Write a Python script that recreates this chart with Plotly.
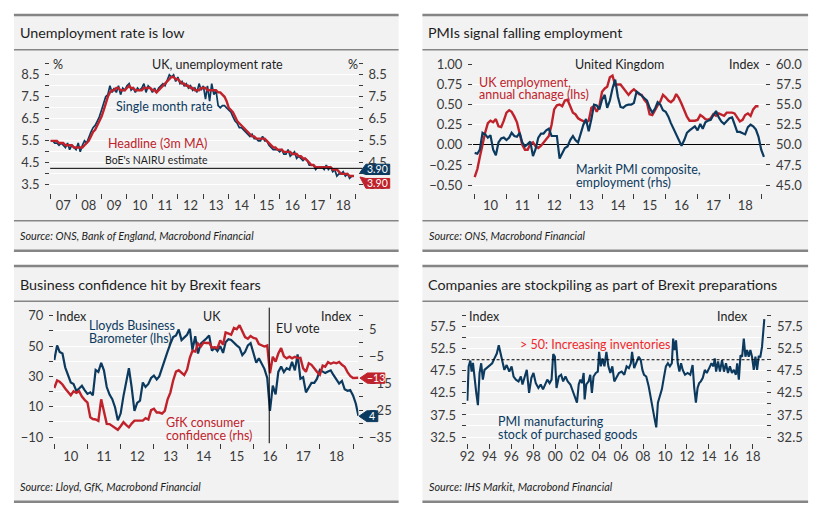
import numpy as np
import pandas as pd
import plotly.graph_objects as go

W, H = 821, 513
FONT = "Lato"
BLUE = "#0c3a5f"
RED = "#c0222b"
BRIGHT_RED = "#f0282d"
INK = "#1e1e1e"
TICKC = "#3a3a3a"
PANEL = "#f2f2f2"
RULE = "#858585"

# ------------------------------------------------------------------ data
# Panel 1: UK unemployment rate, monthly from Jan 2007
unemp_start = "2007-01-01"
unemp_headline = [
    5.5, 5.5, 5.5, 5.5, 5.4, 5.4, 5.4, 5.3, 5.3, 5.3, 5.3, 5.2,
    5.2, 5.2, 5.2, 5.2, 5.3, 5.4, 5.5, 5.7, 5.9, 6.0, 6.2, 6.4,
    6.6, 6.9, 7.2, 7.5, 7.7, 7.8, 7.8, 7.9, 7.9, 7.8, 7.8, 7.8,
    7.9, 8.0, 7.9, 7.9, 7.8, 7.8, 7.8, 7.8, 7.9, 7.9, 7.9, 7.9,
    7.8, 7.8, 7.7, 7.8, 7.9, 8.0, 8.1, 8.2, 8.3, 8.4, 8.4, 8.3,
    8.3, 8.2, 8.1, 8.1, 8.0, 8.0, 7.9, 7.9, 7.8, 7.8, 7.8, 7.9,
    7.9, 7.9, 7.8, 7.8, 7.8, 7.8, 7.8, 7.7, 7.7, 7.6, 7.5, 7.3,
    7.0, 6.9, 6.8, 6.6, 6.4, 6.3, 6.2, 6.1, 6.0, 5.9, 5.8, 5.7,
    5.7, 5.6, 5.6, 5.6, 5.6, 5.6, 5.5, 5.4, 5.3, 5.2, 5.2, 5.1,
    5.1, 5.1, 5.0, 5.0, 5.0, 5.0, 4.9, 4.9, 4.9, 4.8, 4.8, 4.7,
    4.7, 4.6, 4.5, 4.4, 4.4, 4.3, 4.3, 4.3, 4.3, 4.3, 4.3, 4.3,
    4.3, 4.2, 4.2, 4.2, 4.1, 4.0, 4.0, 4.0, 4.0, 3.9, 3.9, 3.9,
]
unemp_single = [
    5.5, 5.5, 5.4, 5.4, 5.3, 5.4, 5.3, 5.2, 5.4, 5.1, 5.3, 5.2,
    5.1, 5.4, 5.0, 5.3, 5.5, 5.4, 5.7, 5.9, 6.1, 6.2, 6.4, 6.6,
    6.9, 7.2, 7.5, 7.6, 8.0, 7.7, 7.9, 7.7, 8.0, 7.6, 7.9, 7.8,
    8.0, 8.1, 7.8, 7.9, 7.7, 7.9, 7.8, 7.9, 8.1, 7.7, 8.0, 7.9,
    7.7, 7.9, 7.7, 7.9, 8.0, 8.1, 8.0, 8.3, 8.5, 8.4, 8.5, 8.2,
    8.4, 8.1, 8.2, 8.0, 8.1, 7.9, 8.0, 7.8, 7.9, 7.7, 8.1, 7.8,
    8.0, 7.4, 8.0, 7.3, 8.1, 7.6, 7.8, 7.1, 7.0, 7.1, 7.1, 7.0,
    6.9, 6.8, 6.6, 6.4, 6.3, 6.1, 6.1, 6.0, 5.9, 5.8, 5.7, 5.8,
    5.6, 5.6, 5.5, 5.5, 5.7, 5.5, 5.5, 5.3, 5.2, 5.1, 5.1, 5.1,
    5.0, 5.1, 4.9, 4.9, 5.1, 4.8, 4.9, 5.0, 4.7, 4.8, 4.7, 4.6,
    4.7, 4.6, 4.4, 4.4, 4.4, 4.2, 4.3, 4.3, 4.3, 4.2, 4.4, 4.2,
    4.3, 4.1, 4.2, 3.9, 4.0, 4.0, 4.1, 3.9, 4.0, 3.8, 3.9, 3.9,
]
nairu = 4.25

# Panel 2: UK employment annual change (lhs) and PMI employment (rhs), monthly from Jan 2010
emp_start = "2010-01-01"
emp_change = [
    -0.40, -0.30, -0.15, 0.02, 0.15, 0.27, 0.30, 0.28, 0.32, 0.23, 0.22, 0.30,
    0.40, 0.43, 0.41, 0.35, 0.28, 0.14, 0.00, -0.06, -0.06, 0.01, 0.03, -0.02,
    -0.04, -0.01, 0.03, 0.07, 0.11, 0.25, 0.44, 0.49, 0.50, 0.48, 0.55, 0.56,
    0.48, 0.40, 0.38, 0.33, 0.31, 0.29, 0.28, 0.30, 0.46, 0.48, 0.41, 0.48,
    0.66, 0.70, 0.72, 0.84, 0.86, 0.74, 0.75, 0.75, 0.71, 0.67, 0.62, 0.66,
    0.69, 0.66, 0.63, 0.62, 0.56, 0.52, 0.38, 0.37, 0.44, 0.49, 0.54, 0.62,
    0.59, 0.55, 0.53, 0.56, 0.63, 0.58, 0.51, 0.43, 0.35, 0.30, 0.30, 0.30,
    0.31, 0.37, 0.35, 0.32, 0.31, 0.33, 0.38, 0.36, 0.39, 0.37, 0.36, 0.40,
    0.40, 0.40, 0.39, 0.33, 0.29, 0.31, 0.37, 0.39, 0.36, 0.44, 0.48, 0.48,
]
pmi_emp = [
    49.0, 48.9, 49.4, 51.5, 51.3, 50.9, 51.2, 49.4, 48.7, 50.3, 50.8, 50.9,
    50.6, 50.9, 51.5, 51.1, 51.0, 51.5, 50.3, 49.8, 50.1, 50.4, 48.6, 49.5,
    50.9, 51.4, 51.4, 51.8, 52.0, 51.1, 51.1, 51.1, 48.3, 48.9, 49.6, 49.8,
    50.6, 51.1, 50.6, 50.3, 51.5, 52.5, 53.2, 51.7, 53.2, 55.0, 54.9, 54.4,
    55.6, 56.2, 54.6, 55.5, 57.0, 58.1, 56.0, 54.7, 54.6, 54.9, 55.0, 55.0,
    55.2, 56.6, 56.4, 56.1, 55.9, 55.5, 54.6, 54.0, 54.5, 55.3, 55.0, 54.3,
    54.1, 53.5, 52.7, 52.0, 51.4, 50.6, 49.9, 50.6, 51.5, 51.8, 52.1, 52.3,
    51.8, 52.6, 52.0, 52.8, 53.0, 53.1, 53.7, 54.2, 53.4, 52.9, 52.6, 52.9,
    53.3, 53.4, 52.5, 51.6, 51.6, 51.4, 51.3, 52.2, 52.5, 52.3, 51.9, 51.0,
    49.4, 48.5,
]

# Panel 3: Lloyds Business Barometer (lhs) and GfK consumer confidence (rhs), monthly from Jan 2010
conf_start = "2010-01-01"
lloyds = [
    40.8, 50.5, 46.2, 45.1, 36.0, 30.5, 26.0, 25.0, 20.5, 22.0, 23.8, 21.0,
    18.5, 19.5, 17.5, 34.3, 33.0, 39.0, 34.0, 23.0, 18.0, 15.0, 9.5, 1.0,
    5.5, 17.0, 25.0, 35.4, 23.0, 7.3, 12.5, 14.0, 26.0, 23.0, 25.0, 29.0,
    30.5, 28.0, 30.0, 36.0, 40.8, 46.5, 51.5, 56.0, 57.0, 61.0, 54.0, 56.0,
    57.5, 61.4, 47.5, 56.5, 45.1, 51.6, 53.0, 55.0, 57.0, 47.0, 49.0, 46.8,
    50.0, 45.5, 52.5, 54.5, 54.0, 52.0, 50.5, 49.0, 44.1, 46.2, 50.5, 52.0,
    45.5, 39.0, 42.0, 38.5, 35.0, 29.0, 7.3, 24.0, 18.1, 33.0, 36.5, 32.8,
    35.5, 34.5, 39.7, 34.0, 44.5, 28.5, 29.5, 19.5, 22.4, 25.7, 25.7, 28.5,
    34.3, 33.3, 32.2, 33.2, 34.0, 30.8, 27.8, 25.3, 27.0, 21.5, 20.5, 21.0,
    17.5, 12.0, 4.0,
]
gfk = [
    -16.8, -14.0, -14.5, -15.5, -17.0, -18.2, -19.5, -18.0, -18.6, -18.0, -20.0, -21.2,
    -22.2, -27.7, -28.3, -28.5, -29.0, -21.0, -26.0, -30.1, -30.2, -31.0, -31.5, -32.3,
    -31.0, -29.5, -30.5, -31.4, -30.0, -28.9, -28.9, -28.9, -28.9, -28.0, -28.5, -25.0,
    -24.5, -25.9, -25.9, -26.3, -25.3, -21.0, -18.5, -14.0, -10.7, -10.2, -11.0, -12.0,
    -10.0, -5.5, -3.0, -3.3, -0.3, -1.4, 0.1, -0.1, 0.0, -1.8, -1.7, -2.0,
    0.9, -0.7, 3.8, 3.5, 3.0, 5.5, 5.0, 6.5, 3.9, 2.1, 1.5, 2.5,
    1.8, 1.5, -0.5, -0.9, -1.4, -1.0, -11.3, -5.2, -7.0, -4.0, -2.0, -5.0,
    -5.8, -5.2, -5.8, -5.2, -5.7, -5.6, -9.5, -10.8, -7.6, -8.2, -9.6, -10.8,
    -11.9, -8.5, -8.9, -7.2, -7.8, -7.3, -7.6, -7.1, -8.2, -8.9, -10.9, -12.3,
    -13.1, -13.1, -13.0,
]
eu_vote = "2016-06-23"

# Panel 4: PMI manufacturing stock of purchased goods (decimal years)
stock_years = [
    1992.0, 1992.12, 1992.27, 1992.39, 1992.51, 1992.66, 1992.81, 1992.96, 1993.11, 1993.26,
    1993.41, 1993.56, 1993.77, 1994.0, 1994.26, 1994.47, 1994.68, 1994.86, 1995.0, 1995.22,
    1995.37, 1995.58, 1995.82, 1996.03, 1996.21, 1996.42, 1996.66, 1996.87, 1997.02, 1997.23,
    1997.41, 1997.62, 1997.83, 1998.02, 1998.23, 1998.47, 1998.68, 1998.89, 1999.07, 1999.28,
    1999.49, 1999.67, 1999.82, 1999.97, 2000.12, 2000.33, 2000.54, 2000.72, 2000.93, 2001.14,
    2001.38, 2001.59, 2001.77, 2001.98, 2002.14, 2002.29, 2002.44, 2002.59, 2002.68, 2002.83,
    2003.04, 2003.19, 2003.34, 2003.49, 2003.7, 2003.88, 2004.0, 2004.15, 2004.3, 2004.48,
    2004.66, 2004.84, 2005.02, 2005.2, 2005.38, 2005.59, 2005.8, 2006.05, 2006.29, 2006.5,
    2006.71, 2006.89, 2007.0, 2007.19, 2007.4, 2007.61, 2007.79, 2007.94, 2008.09, 2008.29,
    2008.51, 2008.69, 2008.87, 2009.05, 2009.2, 2009.35, 2009.53, 2009.71, 2009.89, 2010.08,
    2010.26, 2010.44, 2010.62, 2010.74, 2010.86, 2011.0, 2011.16, 2011.31, 2011.46, 2011.61,
    2011.82, 2012.06, 2012.3, 2012.51, 2012.66, 2012.81, 2012.96, 2013.11, 2013.26, 2013.44,
    2013.62, 2013.8, 2014.02, 2014.23, 2014.41, 2014.53, 2014.65, 2014.83, 2015.0, 2015.19,
    2015.37, 2015.55, 2015.73, 2015.91, 2016.09, 2016.27, 2016.45, 2016.57, 2016.72, 2016.87,
    2017.02, 2017.17, 2017.32, 2017.47, 2017.62, 2017.77, 2017.92, 2018.08, 2018.23, 2018.38,
    2018.53, 2018.68, 2018.83, 2018.92, 2019.04,
]
stock_values = [
    40.7, 48.5, 49.8, 47.3, 49.3, 45.1, 42.5, 39.7, 47.0, 49.2,
    45.5, 47.7, 48.1, 48.5, 49.2, 50.3, 51.4, 53.3, 51.8, 49.6,
    47.7, 48.8, 47.3, 48.5, 46.2, 45.5, 45.1, 46.2, 44.4, 46.2,
    47.7, 42.5, 45.9, 47.0, 44.7, 43.6, 44.4, 43.3, 44.4, 45.5,
    44.7, 45.5, 51.3, 50.7, 43.6, 46.2, 46.6, 45.1, 46.2, 45.1,
    44.4, 42.9, 41.8, 40.3, 44.4, 45.5, 44.7, 47.0, 41.0, 44.4,
    45.1, 46.6, 42.5, 46.2, 47.0, 47.3, 51.8, 48.5, 50.3, 48.5,
    51.8, 48.5, 47.0, 48.5, 45.1, 46.2, 47.0, 47.3, 46.6, 48.5,
    48.1, 49.2, 51.8, 48.1, 49.2, 50.7, 49.9, 47.7, 46.6, 46.2,
    44.0, 41.8, 38.8, 36.6, 34.7, 40.3, 41.8, 43.3, 45.9, 48.5,
    49.2, 48.5, 49.2, 54.8, 52.2, 54.4, 49.2, 47.3, 49.2, 47.7,
    46.6, 47.0, 46.6, 48.8, 43.6, 40.3, 43.6, 44.7, 45.1, 45.9,
    47.7, 47.0, 48.1, 49.2, 48.5, 50.3, 47.3, 49.6, 47.3, 49.9,
    47.3, 49.2, 47.0, 48.5, 47.0, 47.7, 46.6, 49.2, 45.5, 51.0,
    50.7, 54.8, 50.7, 52.2, 50.7, 52.2, 50.7, 47.7, 50.7, 47.7,
    50.7, 50.7, 52.9, 55.1, 59.2,
]
stock_threshold = 50

# ------------------------------------------------------------------ helpers
def fx(p):
    return p / W


def fy(p):
    return 1 - p / H


def lin(p, pa, va, pb, vb):
    return va + (p - pa) * (vb - va) / (pb - pa)


def dyear(y):
    yr = int(np.floor(y))
    a = pd.Timestamp(yr, 1, 1)
    b = pd.Timestamp(yr + 1, 1, 1)
    return (a + (b - a) * (y - yr)).strftime("%Y-%m-%d %H:%M")


def months(start, n):
    return pd.date_range(start, periods=n, freq="MS")


def minus(s):
    return s.replace("-", "\u2212")


fig = go.Figure()
annotations = []
shapes = []

LABEL = 12.5


def txt(x, y, text, size=LABEL, color=INK, xanchor="center", yanchor="middle", italic=False):
    annotations.append(dict(
        x=fx(x), y=fy(y), xref="paper", yref="paper", text=text, showarrow=False,
        xanchor=xanchor, yanchor=yanchor, align="left", borderpad=0,
        font=dict(family=FONT, size=size, color=color, style="italic" if italic else "normal"),
    ))


def hline(x0, x1, y, color=RULE, width=1.5):
    shapes.append(dict(type="line", xref="paper", yref="paper", x0=fx(x0), x1=fx(x1),
                       y0=fy(y), y1=fy(y), line=dict(color=color, width=width), layer="below"))


def flag(tip, x0, x1, y0, y1, color, label):
    path = (f"M {fx(tip[0])},{fy(tip[1])} L {fx(x0)},{fy(y0)} L {fx(x1)},{fy(y0)} "
            f"L {fx(x1)},{fy(y1)} L {fx(x0)},{fy(y1)} Z")
    shapes.append(dict(type="path", xref="paper", yref="paper", path=path,
                       fillcolor=color, line=dict(color=color, width=1), layer="above"))
    annotations.append(dict(x=fx((x0 + x1) / 2), y=fy((y0 + y1) / 2), xref="paper", yref="paper",
                            text=label, showarrow=False, xanchor="center", yanchor="middle",
                            font=dict(family=FONT, size=10.5, color="white")))


def panel(x0, x1, top, under, bottom, title, source, source_line=None, source_y=None):
    shapes.append(dict(type="rect", xref="paper", yref="paper", x0=fx(x0), x1=fx(x1),
                       y0=fy(bottom), y1=fy(top), fillcolor=PANEL, line=dict(width=0), layer="below"))
    hline(x0, x1, top, width=2.5)
    hline(x0, x1, under, width=1.5)
    if source_line:
        hline(x0, x1, source_line, width=1.5)
    hline(x0, x1, bottom, width=2.5)
    txt(x0 + 5, (top + under) / 2 + 0.5, title, size=14.3, xanchor="left")
    txt(x0 + 5.5, source_y, source, size=10.8, xanchor="left", italic=True)


tickfont = dict(family=FONT, size=13, color=TICKC)


def xaxis_cfg(px0, px1, ya, va, yb, vb, dtick, tick0, period, anchor):
    return dict(
        domain=[fx(px0), fx(px1)], anchor=anchor, type="date",
        range=[dyear(lin(px0, ya, va, yb, vb)), dyear(lin(px1, ya, va, yb, vb))],
        dtick=dtick, tick0=tick0, tickformat="%y",
        ticklabelmode="period" if period else "instant",
        ticks="outside", ticklen=5, tickwidth=1, tickcolor=TICKC, ticklabelstandoff=-4,
        showgrid=False, zeroline=False, showline=False, tickfont=tickfont,
    )


def yaxis_cfg(py0, py1, pa, va, pb, vb, vals, labels, anchor, side="left", overlaying=None, grid=True):
    d = dict(
        domain=[fy(py1), fy(py0)], anchor=anchor, side=side,
        range=[lin(py1, pa, va, pb, vb), lin(py0, pa, va, pb, vb)],
        tickmode="array", tickvals=vals, ticktext=labels,
        ticks="outside", ticklen=4, tickwidth=1, tickcolor=TICKC, ticklabelstandoff=3,
        showgrid=grid, gridcolor="white", gridwidth=1, zeroline=False, showline=False,
        tickfont=tickfont,
    )
    if overlaying:
        d["overlaying"] = overlaying
    return d


# ------------------------------------------------------------------ panel frames
panel(7, 395, 7, 42.5, 247, "Unemployment rate is low",
      "Source: ONS, Bank of England, Macrobond Financial", source_line=216.5, source_y=232)
panel(419, 808, 7, 42.5, 247, "PMIs signal falling employment",
      "Source: ONS, Macrobond Financial", source_line=216.5, source_y=232)
panel(7, 395, 262.5, 298.5, 502.5, "Business confidence hit by Brexit fears",
      "Source: Lloyd, GfK, Macrobond Financial", source_y=487.5)
panel(419, 808, 262.5, 298.5, 502.5, "Companies are stockpiling as part of Brexit preparations",
      "Source: IHS Markit, Macrobond Financial", source_y=487.5)

# ------------------------------------------------------------------ panel 1
d1 = months(unemp_start, len(unemp_single))
fig.add_trace(go.Scatter(x=d1, y=unemp_single, mode="lines", line=dict(color=BLUE, width=1.7),
                         xaxis="x", yaxis="y", showlegend=False, hoverinfo="skip"))
fig.add_trace(go.Scatter(x=d1, y=unemp_headline, mode="lines", line=dict(color=RED, width=2.4),
                         xaxis="x", yaxis="y2", showlegend=False, hoverinfo="skip"))
v1 = [3.5 + 0.5 * i for i in range(12)]
l1 = [f"{v:.1f}" if (round(v * 2) % 2 == 1) else "" for v in v1]
P1 = (56.3, 188, 68, 8.5, 180, 3.5)
fig.update_layout(
    xaxis=xaxis_cfg(43.5, 354, 44, 2007, 352, 2019, "M12", "2007-01-01", True, "y"),
    yaxis=yaxis_cfg(*P1, v1, l1, "x"),
    yaxis2=yaxis_cfg(*P1, v1, l1, "x", side="right", overlaying="y", grid=False),
)
shapes.append(dict(type="line", xref="x domain", yref="y", x0=0, x1=1.015, y0=nairu, y1=nairu,
                   line=dict(color="black", width=1), layer="above"))
txt(212, 57.5, "UK, unemployment rate")
txt(51, 57, "%")
txt(349, 57, "%")
txt(159, 100, "Single month rate", color=BLUE)
txt(152, 138, "Headline (3m MA)", color=RED)
txt(151, 155, "BoE's NAIRU estimate", size=10.5)
flag((356, 167.5), 362, 386, 159, 169.5, BLUE, f"{unemp_single[-1]:.2f}")
flag((356, 172), 362, 386, 173.5, 183.5, RED, f"{unemp_headline[-1]:.2f}")

# ------------------------------------------------------------------ panel 2
d2a = months(emp_start, len(emp_change))
d2b = months(emp_start, len(pmi_emp))
fig.add_trace(go.Scatter(x=d2a, y=emp_change, mode="lines", line=dict(color=RED, width=2.4),
                         xaxis="x2", yaxis="y3", showlegend=False, hoverinfo="skip"))
fig.add_trace(go.Scatter(x=d2b, y=pmi_emp, mode="lines", line=dict(color=BLUE, width=2.2),
                         xaxis="x2", yaxis="y4", showlegend=False, hoverinfo="skip"))
v3 = [-0.5 + 0.25 * i for i in range(7)]
l3 = [minus(f"{v:.2f}") for v in v3]
v4 = [45 + 2.5 * i for i in range(7)]
l4 = [f"{v:.1f}" for v in v4]
y3 = yaxis_cfg(56.8, 188, 57.3, 1.0, 180.3, -0.5, v3, l3, "x2")
y3.update(zeroline=True, zerolinecolor="black", zerolinewidth=1)
fig.update_layout(
    xaxis2=xaxis_cfg(470, 765, 471.7, 2010, 760.7, 2019, "M12", "2010-01-01", True, "y3"),
    yaxis3=y3,
    yaxis4=yaxis_cfg(56.8, 188, 57.3, 60, 180.3, 45, v4, l4, "x2", side="right",
                     overlaying="y3", grid=False),
)
txt(618, 57.5, "United Kingdom")
txt(743.5, 57.5, "Index")
txt(475, 76, "UK employment,", color=RED, xanchor="left")
txt(475, 88.5, "annual chanage (lhs)", color=RED, xanchor="left")
txt(573, 164, "Markit PMI composite,", color=BLUE, xanchor="left")
txt(573, 178, "employment (rhs)", color=BLUE, xanchor="left")

# ------------------------------------------------------------------ panel 3
d3 = months(conf_start, len(lloyds))
fig.add_trace(go.Scatter(x=d3, y=lloyds, mode="lines", line=dict(color=BLUE, width=2.2),
                         xaxis="x3", yaxis="y5", showlegend=False, hoverinfo="skip"))
fig.add_trace(go.Scatter(x=months(conf_start, len(gfk)), y=gfk, mode="lines",
                         line=dict(color=RED, width=2.4),
                         xaxis="x3", yaxis="y6", showlegend=False, hoverinfo="skip"))
v5 = [-10 + 10 * i for i in range(9)]
l5 = [minus(str(v)) if v % 20 == 10 else "" for v in v5]
l5[-1] = "70"
v6 = [-35 + 5 * i for i in range(10)]
l6 = [minus(str(v)) if v % 10 == 5 else "" for v in v6]
fig.update_layout(
    xaxis3=xaxis_cfg(47.3, 354.5, 47.7, 2010, 349, 2019, "M12", "2010-01-01", True, "y5"),
    yaxis5=yaxis_cfg(312.8, 443, 313.3, 70, 436.7, -10, v5, l5, "x3"),
    yaxis6=yaxis_cfg(312.8, 443, 313.3, 10, 436.7, -35, v6, l6, "x3", side="right",
                     overlaying="y5", grid=False),
)
shapes.append(dict(type="line", xref="x3", yref="paper", x0=eu_vote, x1=eu_vote,
                   y0=fy(305), y1=fy(443), line=dict(color="black", width=1), layer="above"))
txt(48.5, 313.5, "Index", xanchor="left")
txt(207, 313.5, "UK")
txt(348.5, 313.5, "Index", xanchor="right")
txt(270.5, 326, "EU vote", xanchor="left")
txt(82, 323, "Lloyds Business", color=BLUE, xanchor="left")
txt(82, 336, "Barometer (lhs)", color=BLUE, xanchor="left")
txt(159, 421.5, "GfK consumer", color=RED, xanchor="left")
txt(159, 435, "confidence (rhs)", color=RED, xanchor="left")
flag((356, 376.7), 363.5, 381, 371.5, 382, RED, minus(f"{round(gfk[-1]):d}"))
flag((355, 415.5), 363, 374, 410, 421, BLUE, f"{round(lloyds[-1]):d}")

# ------------------------------------------------------------------ panel 4
d4 = [dyear(y) for y in stock_years]
fig.add_trace(go.Scatter(x=d4, y=stock_values, mode="lines", line=dict(color=BLUE, width=2.1),
                         xaxis="x4", yaxis="y7", showlegend=False, hoverinfo="skip"))
fig.add_trace(go.Scatter(x=d4, y=stock_values, mode="lines", line=dict(color=BLUE, width=2.1),
                         opacity=0, xaxis="x4", yaxis="y8", showlegend=False, hoverinfo="skip"))
v7 = [32.5 + 2.5 * i for i in range(12)]
l7 = [f"{v:.1f}" if (round((v - 32.5) / 2.5) % 2 == 0) else "" for v in v7]
P4 = (312.8, 443, 324.3, 57.5, 436.7, 32.5)
fig.update_layout(
    xaxis4=xaxis_cfg(463.5, 766, 464.3, 1992, 752.3, 2018, "M24", "1992-01-01", False, "y7"),
    yaxis7=yaxis_cfg(*P4, v7, l7, "x4"),
    yaxis8=yaxis_cfg(*P4, v7, l7, "x4", side="right", overlaying="y7", grid=False),
)
shapes.append(dict(type="line", xref="x4 domain", yref="y7", x0=0, x1=1,
                   y0=stock_threshold, y1=stock_threshold,
                   line=dict(color="black", width=1, dash="3px,2px"), layer="above"))
txt(464.5, 313.5, "Index", xanchor="left")
txt(748.5, 314, "Index", xanchor="right")
txt(594, 343, "> 50: Increasing inventories", color=BRIGHT_RED)
txt(494, 421, "PMI manufacturing", color=BLUE, xanchor="left")
txt(494, 434, "stock of purchased goods", color=BLUE, xanchor="left")

fig.update_layout(
    width=W, height=H, margin=dict(l=0, r=0, t=0, b=0),
    paper_bgcolor="white", plot_bgcolor="rgba(0,0,0,0)",
    font=dict(family=FONT, color=INK),
    showlegend=False, annotations=annotations, shapes=shapes,
)

fig.write_html(
    "out.html",
    config={"displayModeBar": False},
    post_script="document.documentElement.style.margin='0';document.body.style.margin='0';",
)
